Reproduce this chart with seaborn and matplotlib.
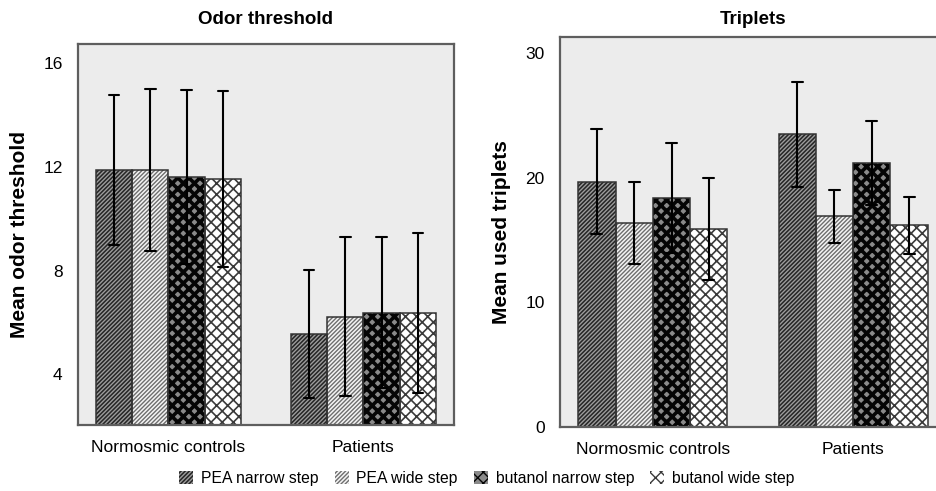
import numpy as np
import pandas as pd
import matplotlib
matplotlib.use("Agg")
import matplotlib.pyplot as plt
from matplotlib.patches import Patch, Rectangle
import seaborn as sns

# ── Data (mean and SD) ───────────────────────────────────────────────────────
groups     = ["Normosmic controls", "Patients"]
conditions = ["PEA narrow step", "PEA wide step", "butanol narrow step", "butanol wide step"]

thr_mean = {"Normosmic controls": [11.88, 11.88, 11.59, 11.53],
            "Patients":           [5.57, 6.23, 6.38, 6.35]}
thr_sd   = {"Normosmic controls": [2.88, 3.13, 3.35, 3.38],
            "Patients":           [2.47, 3.05, 2.92, 3.08]}

trip_mean = {"Normosmic controls": [19.7, 16.4, 18.4, 15.9],
             "Patients":           [23.5, 16.9, 21.2, 16.2]}
trip_sd   = {"Normosmic controls": [4.2, 3.3, 4.4, 4.1],
             "Patients":           [4.2, 2.1, 3.4, 2.3]}

# ── Styles ───────────────────────────────────────────────────────────────────
# (facecolor, hatch, hatch colour, hatch linewidth)
STYLES = [
    ("#262626", "////////", "#9c9c9c", 1.0),
    ("#f4f4f4", "////////", "#6e6e6e", 1.0),
    ("#8a8a8a", "xxx",      "#050505", 2.6),
    ("#ffffff", "xxx",      "#3a3a3a", 1.2),
]
PANEL_BG = "#ececec"
FRAME    = "#5e5e5e"


def long_table(means, sds):
    # two rows per bar: mean - sd and mean + sd; the mean of both is the mean,
    # and the min/max errorbar spans +- sd
    rows = []
    for g in groups:
        for c, m, s in zip(conditions, means[g], sds[g]):
            rows.append({"group": g, "cond": c, "val": m - s})
            rows.append({"group": g, "cond": c, "val": m + s})
    return pd.DataFrame(rows)


def draw_panel(ax, means, sds, ylim, yticks, ylabel, title):
    df = long_table(means, sds)
    sns.barplot(data=df, x="group", y="val", hue="cond", order=groups,
                hue_order=conditions, estimator="mean",
                errorbar=lambda v: (v.min(), v.max()),
                width=0.745, capsize=0.22, legend=False,
                err_kws={"color": "black", "linewidth": 1.5}, ax=ax)
    bars = [p for p in ax.patches if isinstance(p, Rectangle)]
    for i, bar in enumerate(bars):
        fc, hatch, hc, hlw = STYLES[i // len(groups)]
        bar.set_facecolor(fc)
        bar.set_hatch(hatch)
        bar.set_edgecolor(hc)
        bar.set_linewidth(0)
        if hasattr(bar, "set_hatch_linewidth"):
            bar.set_hatch_linewidth(hlw)
        bar.set_zorder(1)
        outline = Rectangle(bar.get_xy(), bar.get_width(), bar.get_height(),
                            fill=False, edgecolor="#333333", linewidth=1.1,
                            zorder=1.5)
        ax.add_patch(outline)
    for line in ax.lines:
        line.set_zorder(3)

    ax.set_facecolor(PANEL_BG)
    ax.set_xlim(-0.464, 1.464)
    ax.set_ylim(*ylim)
    ax.set_yticks(yticks)
    ax.set_xlabel("")
    ax.set_ylabel(ylabel, fontsize=15, fontweight="bold", labelpad=10)
    # title sits at the same height for both panels
    pos = ax.get_position()
    fig.text(pos.x0 + pos.width / 2, 1 - 19 / 491, title, fontsize=13.5,
             fontweight="bold", ha="center", va="center")
    for sp in ax.spines.values():
        sp.set_visible(True)
        sp.set_color(FRAME)
        sp.set_linewidth(1.6)
    ax.tick_params(axis="both", direction="out", length=6, width=1.2,
                   color=FRAME, labelsize=12.5, pad=5)
    ax.grid(False)


sns.set_theme(style="white")
plt.rcParams["font.family"] = ["Liberation Sans", "DejaVu Sans"]
plt.rcParams["hatch.linewidth"] = 1.0
for key in ["text.color", "axes.labelcolor", "xtick.labelcolor", "ytick.labelcolor"]:
    plt.rcParams[key] = "black"

fig = plt.figure(figsize=(9.36, 4.91), dpi=100)
ax1 = fig.add_axes([0.0833, 0.1344, 0.4017, 0.776])
ax2 = fig.add_axes([0.5983, 0.1303, 0.4124, 0.7943])

draw_panel(ax1, thr_mean, thr_sd, (2.05, 16.73), [4, 8, 12, 16],
           "Mean odor threshold", "Odor threshold")
draw_panel(ax2, trip_mean, trip_sd, (0, 31.3), [0, 10, 20, 30],
           "Mean used triplets", "Triplets")

handles = []
for (fc, hatch, hc, hlw), c in zip(STYLES, conditions):
    h = Patch(facecolor=fc, hatch=hatch, edgecolor=hc, linewidth=0, label=c)
    handles.append(h)
fig.legend(handles=handles, loc="center", bbox_to_anchor=(0.52, 0.025),
           ncol=4, frameon=False, fontsize=11.3, handlelength=0.9,
           handleheight=0.9, handletextpad=0.5, columnspacing=1.0,
           borderaxespad=0)

fig.savefig("out.png", dpi=100, facecolor="white")
